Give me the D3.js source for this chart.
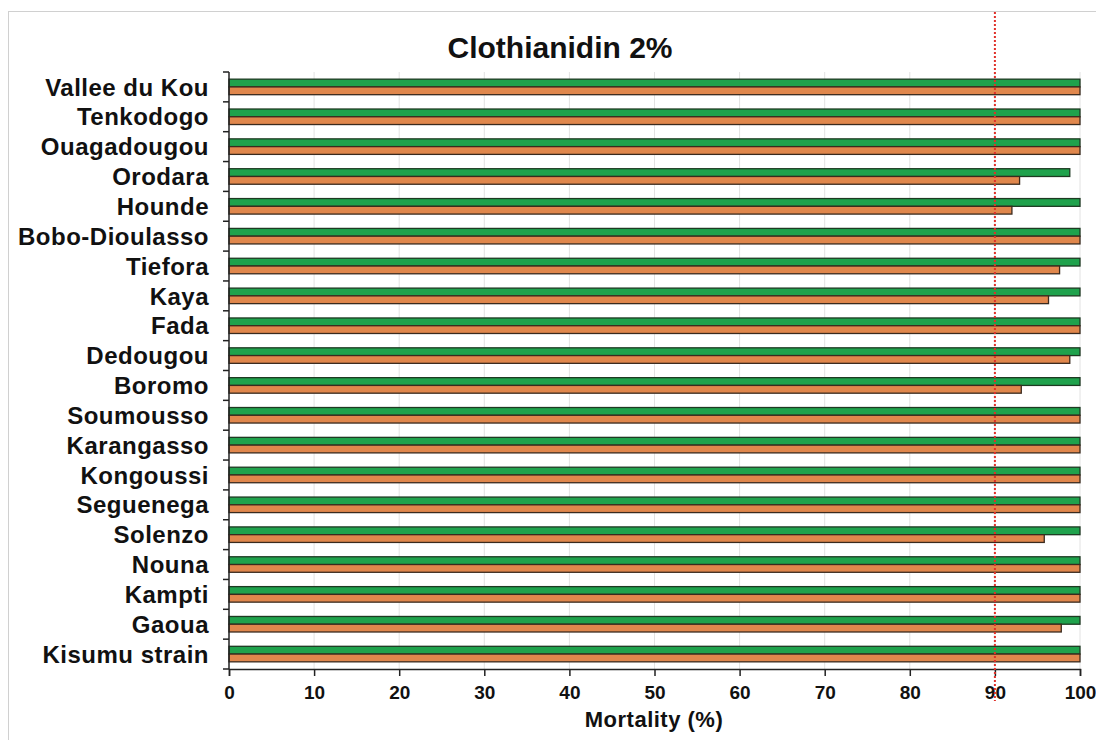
<!doctype html>
<html lang="en">
<head>
<meta charset="utf-8">
<title>Clothianidin 2%</title>
<script src="https://d3js.org/d3.v7.min.js"></script>
<style>
  body { margin: 0; background: #fff; }
  text { font-family: "Liberation Sans", Arial, sans-serif; font-weight: bold; fill: #111; }
</style>
</head>
<body>
<div id="main"></div>
<script>
const sites = ['Vallee du Kou', 'Tenkodogo', 'Ouagadougou', 'Orodara', 'Hounde', 'Bobo-Dioulasso',
               'Tiefora', 'Kaya', 'Fada', 'Dedougou', 'Boromo', 'Soumousso', 'Karangasso',
               'Kongoussi', 'Seguenega', 'Solenzo', 'Nouna', 'Kampti', 'Gaoua', 'Kisumu strain']
const greenValues = [100, 100, 100, 98.8, 100, 100, 100, 100, 100, 100, 100, 100, 100, 100, 100, 100, 100, 100, 100, 100]
const orangeValues = [100, 100, 100, 92.9, 92.0, 100, 97.6, 96.3, 100, 98.8, 93.1, 100, 100, 100, 100, 95.8, 100, 100, 97.8, 100]
const xTicks = [0, 10, 20, 30, 40, 50, 60, 70, 80, 90, 100]
const threshold = 90

const W = 1096, H = 740
const margin = {left: 229, right: 16, top: 72, bottom: 71}

const svg = d3.select('#main').append('svg')
  .attr('width', W).attr('height', H)

// outer frame
svg.append('rect')
  .attr('x', 8.5).attr('y', 11.5)
  .attr('width', W).attr('height', H)
  .attr('fill', 'none').attr('stroke', '#d0d0d0')

const x = d3.scaleLinear().domain([0, 100]).range([margin.left, W - margin.right])
const y = d3.scaleBand().domain(sites).range([margin.top, H - margin.bottom])

// vertical grid
svg.append('g').selectAll('line')
  .data(xTicks.slice(1))
  .enter().append('line')
  .attr('x1', d => x(d)).attr('x2', d => x(d))
  .attr('y1', margin.top).attr('y2', H - margin.bottom)
  .attr('stroke', '#e2e2e2').attr('stroke-width', 1)

const barH = y.bandwidth() * 0.26
const rows = svg.append('g').selectAll('g')
  .data(sites.map((s, i) => ({site: s, g: greenValues[i], o: orangeValues[i]})))
  .enter().append('g')
  .attr('transform', d => `translate(0,${y(d.site) + y.bandwidth() / 2})`)

rows.append('rect')
  .attr('x', x(0)).attr('y', -barH)
  .attr('width', d => x(d.g) - x(0)).attr('height', barH)
  .attr('fill', '#1fa24c').attr('stroke', '#1e3a22').attr('stroke-width', 1.3)

rows.append('rect')
  .attr('x', x(0)).attr('y', 0)
  .attr('width', d => x(d.o) - x(0)).attr('height', barH)
  .attr('fill', '#e0874c').attr('stroke', '#3a2a1e').attr('stroke-width', 1.3)

// y axis
const yAxis = svg.append('g')
  .attr('transform', `translate(${margin.left},0)`)
yAxis.append('line')
  .attr('x1', 0).attr('x2', 0)
  .attr('y1', margin.top).attr('y2', H - margin.bottom)
  .attr('stroke', '#222').attr('stroke-width', 1.5)
yAxis.selectAll('.tk')
  .data(d3.range(sites.length + 1))
  .enter().append('line')
  .attr('x1', -6).attr('x2', 0)
  .attr('y1', i => margin.top + i * y.step()).attr('y2', i => margin.top + i * y.step())
  .attr('stroke', '#222').attr('stroke-width', 1.5)
yAxis.selectAll('text')
  .data(sites)
  .enter().append('text')
  .attr('x', -20)
  .attr('y', d => y(d) + y.bandwidth() / 2)
  .attr('dy', '.36em')
  .attr('text-anchor', 'end')
  .style('font-size', '24px')
  .style('letter-spacing', '0.5px')
  .text(d => d)

// x axis
const xAxis = svg.append('g')
  .attr('transform', `translate(0,${H - margin.bottom})`)
  .call(d3.axisBottom(x).tickValues(xTicks).tickSize(7).tickPadding(10))
xAxis.select('.domain').attr('stroke', '#222').attr('stroke-width', 1.5)
xAxis.selectAll('.tick line').attr('stroke', '#222').attr('stroke-width', 1.5)
xAxis.selectAll('.tick text')
  .style('font-size', '19px')
  .style('font-family', '"Liberation Sans", Arial, sans-serif')
  .style('font-weight', 'bold')
  .attr('fill', '#111')

// threshold line
svg.append('line')
  .attr('x1', x(threshold)).attr('x2', x(threshold))
  .attr('y1', 12).attr('y2', H - margin.bottom + 32)
  .attr('stroke', '#e0302a').attr('stroke-width', 2)
  .attr('stroke-dasharray', '2,2')

svg.append('text')
  .attr('x', 560).attr('y', 58)
  .attr('text-anchor', 'middle')
  .style('font-size', '30px')
  .text('Clothianidin 2%')

svg.append('text')
  .attr('x', 654).attr('y', 727)
  .attr('text-anchor', 'middle')
  .style('font-size', '22px')
  .style('letter-spacing', '0.5px')
  .text('Mortality (%)')
</script>
</body>
</html>
